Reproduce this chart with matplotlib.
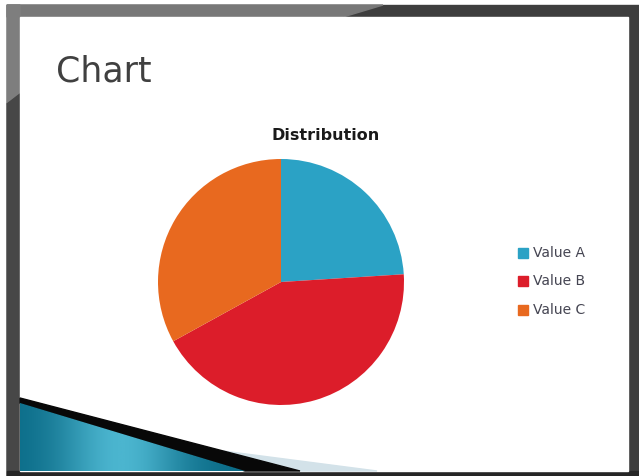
import numpy as np
import matplotlib
matplotlib.use('Agg')
import matplotlib.pyplot as plt
from matplotlib.patches import Polygon, Rectangle

# Chart data
labels = ['Value A', 'Value B', 'Value C']
values = [24, 43, 33]
colors = ['#2ba2c5', '#dc1d2a', '#e8691f']
chart_title = 'Distribution'
slide_title = 'Chart'

W, H = 639, 477
fig = plt.figure(figsize=(W / 100, H / 100), dpi=100)

# Background axes in pixel coordinates (y downward)
bg = fig.add_axes([0, 0, 1, 1])
bg.set_xlim(0, W)
bg.set_ylim(H, 0)
bg.axis('off')

# screenshot margin + dark slide frame
bg.add_patch(Rectangle((0, 0), W, H, color='white', zorder=0))
bg.add_patch(Rectangle((7, 6), W - 7, H - 6, color='#3e3e3e', zorder=0.5))
bg.add_patch(Polygon([(7, 6), (383, 6), (343, 18), (7, 18)], color='#787878', zorder=1))
bg.add_patch(Polygon([(7, 6), (20, 6), (20, 95), (7, 105)], color='#7e7e7e', zorder=1))
bg.add_patch(Polygon([(7, 105), (20, 95), (20, H), (7, H)], color='#474747', zorder=1))
bg.add_patch(Rectangle((7, 472), W, 5, color='#262626', zorder=1))

# white slide
bg.add_patch(Rectangle((20, 18), 608, 454, color='white', zorder=2))

# bottom-left decoration
bg.add_patch(Polygon([(223, 452), (377, 472), (300, 472)], color='#d3e2e9', zorder=3))
bg.add_patch(Polygon([(20, 399), (300, 472), (245, 472), (20, 404)],
                     color='#080808', zorder=4))
tri = Polygon([(20, 404), (245, 472), (20, 472)], facecolor='none', edgecolor='none', zorder=5)
bg.add_patch(tri)
grad = np.linspace(0, 1, 256)
grad = np.exp(-((grad - 0.45) / 0.28) ** 2)
cmap = matplotlib.colors.LinearSegmentedColormap.from_list('teal', ['#0b6c88', '#4bb5cf'])
im = bg.imshow(grad[np.newaxis, :], cmap=cmap, extent=(20, 245, 472, 400),
               aspect='auto', zorder=5)
im.set_clip_path(tri)
bg.set_xlim(0, W)
bg.set_ylim(H, 0)

# titles
bg.text(56, 71, slide_title, fontsize=25, color='#404040', va='center', ha='left', zorder=6)
bg.text(326, 136, chart_title, fontsize=11.5, fontweight='bold', color='#1a1a1a',
        va='center', ha='center', zorder=6)

# pie
cx, cy, r = 281, 283, 123
ax = fig.add_axes([(cx - r) / W, (H - cy - r) / H, 2 * r / W, 2 * r / H])
ax.pie(values, colors=colors, startangle=90, counterclock=False, radius=1,
       wedgeprops=dict(linewidth=0))
ax.set_xlim(-1, 1)
ax.set_ylim(-1, 1)
ax.set_aspect('equal')
ax.axis('off')

# legend
for i, (lab, col) in enumerate(zip(labels, colors)):
    y = 253 + i * 28.5
    bg.add_patch(Rectangle((518, y - 4.5), 10, 10, color=col, zorder=6))
    bg.text(533, y, lab, fontsize=10, color='#454552', va='center', ha='left', zorder=6)

fig.savefig('out.png', dpi=100)
